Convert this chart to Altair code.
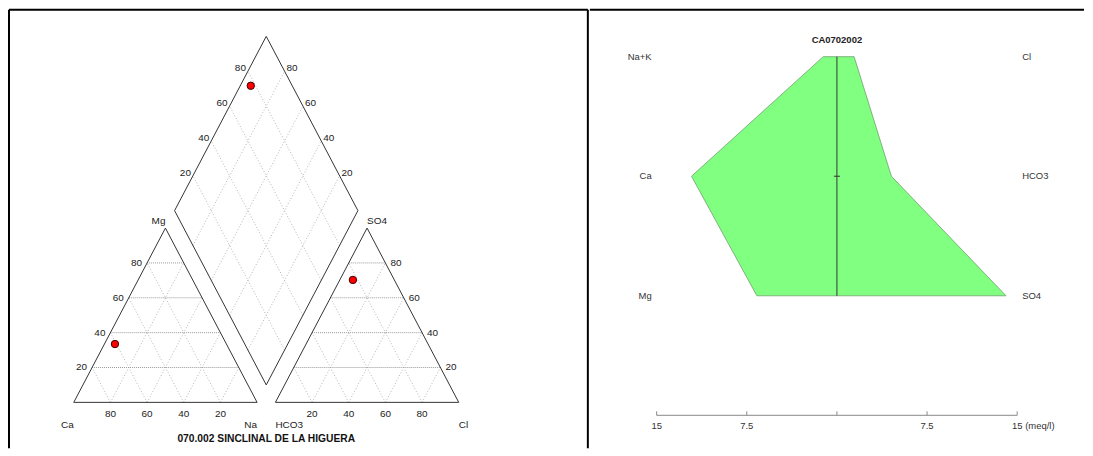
import altair as alt
import numpy as np
import pandas as pd

# ---------------- data (sample CA0702002, meq/l) ----------------
cation_names = ["Na+K", "Ca", "Mg"]
cation_meq = [1.14, 12.10, 6.66]
anion_names = ["Cl", "HCO3", "SO4"]
anion_meq = [1.43, 4.53, 14.07]

grid_pct = [20, 40, 60, 80]
piper_corner_labels = ["Ca", "Na", "HCO3", "Cl", "Mg", "SO4"]
piper_title = "070.002 SINCLINAL DE LA HIGUERA"

stiff_tick_values = [-15, -7.5, 0, 7.5, 15]
stiff_tick_labels = ["15", "7.5", "", "7.5", "15"]
stiff_unit = "(meq/l)"
stiff_title = "CA0702002"

FONT = "Liberation Sans"
S3 = np.sqrt(3) / 2
GAP = 0.1
AX = 1 + GAP

LW, LH = 581, 440
RW, RH = 496, 440

XD = [-0.3533, 2.8043]
YD = [-0.2277, 1.9505]
XS = alt.Scale(domain=XD, nice=False, zero=False)
YS = alt.Scale(domain=YD, nice=False, zero=False)

# ---------------- piper geometry ----------------
ca, mg, na = cation_meq[1], cation_meq[2], cation_meq[0]
cl, hco3, so4 = anion_meq[0], anion_meq[1], anion_meq[2]
ct = ca + mg + na
at = cl + hco3 + so4
fm, fn = mg / ct, na / ct
fs, fc = so4 / at, cl / at
xc, yc = fn + fm / 2, fm * S3
xa, ya = AX + fc + fs / 2, fs * S3
t = ((ya - yc) / S3 + 2 * (xa - xc)) / 2
xd, yd = xc + 0.5 * t, yc + S3 * t
pts = pd.DataFrame({"x": [xc, xa, xd], "y": [yc, ya, yd]})

B = np.array([(1 + AX) / 2, GAP * S3])
U = np.array([-0.5, S3])
V = np.array([0.5, S3])
L = B + U
T = B + U + V
R = B + V

outline = []
for ox in (0, AX):
    outline += [(ox, 0, ox + 1, 0), (ox + 1, 0, ox + 0.5, S3), (ox + 0.5, S3, ox, 0)]
outline += [(*B, *L), (*L, *T), (*T, *R), (*R, *B)]

hgrid, dgrid = [], []
for p in grid_pct:
    f = p / 100
    for ox in (0, AX):
        hgrid.append((ox + f / 2, f * S3, ox + 1 - f / 2, f * S3))
        dgrid.append((ox + f, 0, ox + f + (1 - f) / 2, (1 - f) * S3))
        dgrid.append((ox + 1 - f, 0, ox + (1 - f) / 2, (1 - f) * S3))
    p1 = B + f * U
    dgrid.append((*p1, *(p1 + V)))
    p2 = B + f * V
    dgrid.append((*p2, *(p2 + U)))

frame_l = [(XD[0], YD[0], XD[0], YD[1]), (XD[0], YD[1], XD[1], YD[1]), (XD[1], YD[0], XD[1], YD[1])]


def seg_df(s):
    return pd.DataFrame([tuple(float(v) for v in r) for r in s], columns=["x", "y", "x2", "y2"])


def rules(df, color, width=1.0, dash=None, xs=XS, ys=YS):
    kw = dict(color=color, strokeWidth=width)
    if dash:
        kw["strokeDash"] = dash
    return alt.Chart(df).mark_rule(**kw).encode(
        x=alt.X("x:Q", scale=xs, axis=None),
        y=alt.Y("y:Q", scale=ys, axis=None),
        x2="x2:Q",
        y2="y2:Q",
    )


def texts(df, align, dx=0, dy=0, size=10, bold=False, color="#222222", xs=XS, ys=YS, field="t"):
    return alt.Chart(df).mark_text(
        align=align, baseline="middle", dx=dx, dy=dy, fontSize=size, font=FONT,
        fontWeight="bold" if bold else "normal", color=color,
    ).encode(
        x=alt.X("x:Q", scale=xs, axis=None),
        y=alt.Y("y:Q", scale=ys, axis=None),
        text=f"{field}:N",
    )


def tdf(xs, ys, ts):
    return pd.DataFrame({"x": [float(v) for v in xs], "y": [float(v) for v in ys], "t": list(ts)})


labs = [str(p) for p in grid_pct]
lab_left = tdf([p / 200 for p in grid_pct], [p / 100 * S3 for p in grid_pct], labs)
lab_right = tdf([AX + 1 - p / 200 for p in grid_pct], [p / 100 * S3 for p in grid_pct], labs)
lab_bottom = tdf([1 - p / 100 for p in grid_pct] + [AX + p / 100 for p in grid_pct], [0.0] * 8, labs * 2)
dl = [L + p / 100 * V for p in grid_pct]
dr = [R + p / 100 * U for p in grid_pct]
lab_dl = tdf([q[0] for q in dl], [q[1] for q in dl], labs)
lab_dr = tdf([q[0] for q in dr], [q[1] for q in dr], labs)

corner_r_bot = tdf([0, 1], [0, 0], piper_corner_labels[0:2])
corner_l_bot = tdf([AX, AX + 1], [0, 0], piper_corner_labels[2:4])
corner_mg = tdf([0.5], [S3], [piper_corner_labels[4]])
corner_so4 = tdf([AX + 0.5], [S3], [piper_corner_labels[5]])
title_df = tdf([(1 + AX) / 2], [-0.1832], [piper_title])

points = alt.Chart(pts).mark_circle(color="#ff0000", stroke="#3a0000", strokeWidth=1,
                                    size=55, opacity=1).encode(
    x=alt.X("x:Q", scale=XS, axis=None), y=alt.Y("y:Q", scale=YS, axis=None))

left = alt.layer(
    rules(seg_df(dgrid), "#b5b5b5", 1, [1, 2]),
    rules(seg_df(hgrid), "#9a9a9a", 1, [1, 1]),
    rules(seg_df(outline), "#333333", 1),
    texts(lab_left, "right", dx=-5),
    texts(lab_right, "left", dx=5),
    texts(lab_bottom, "center", dy=12),
    texts(lab_dl, "right", dx=-2, dy=-3),
    texts(lab_dr, "left", dx=2, dy=-3),
    texts(corner_r_bot, "right", dy=23),
    texts(corner_l_bot, "left", dy=23),
    texts(corner_mg, "right", dy=-7),
    texts(corner_so4, "left", dy=-7),
    points,
    texts(title_df, "center", size=10.3, bold=True, color="#111111"),
    rules(seg_df(frame_l), "black", 2),
).properties(width=LW, height=LH)

# ---------------- stiff diagram ----------------
SXD = [-20.56, 20.56]
SYD = [0.608, 4.275]
SX = alt.Scale(domain=SXD, nice=False, zero=False)
SY = alt.Scale(domain=SYD, nice=False, zero=False, reverse=True)
rows = [1, 2, 3]
AXIS_ROW = 4
PX_ROW = (SYD[1] - SYD[0]) / RH  # rows per pixel

stiff = pd.DataFrame({"row": rows,
                      "left": [-v for v in cation_meq],
                      "right": anion_meq,
                      "cat": cation_names,
                      "an": anion_names,
                      "lx": [stiff_tick_values[0]] * 3,
                      "rx": [stiff_tick_values[-1]] * 3})

poly = alt.Chart(stiff).mark_area(orient="horizontal", color="#80ff80", fillOpacity=1,
                                  stroke="#6f9f6f", strokeWidth=0.8).encode(
    x=alt.X("left:Q", scale=SX, axis=None), x2="right:Q",
    y=alt.Y("row:Q", scale=SY, axis=None))

center = rules(seg_df([(0, rows[0], 0, rows[-1]), (-0.25, rows[1], 0.25, rows[1])]),
               "#333333", 1, xs=SX, ys=SY)
axis_line = rules(seg_df([(stiff_tick_values[0], AXIS_ROW, stiff_tick_values[-1], AXIS_ROW)]),
                  "#8a8a8a", 1, xs=SX, ys=SY)
axis_ticks = rules(seg_df([(v, AXIS_ROW, v, AXIS_ROW - 4 * PX_ROW) for v in stiff_tick_values]),
                   "#8a8a8a", 1, xs=SX, ys=SY)
lab_y = AXIS_ROW + 11 * PX_ROW
axis_labels = texts(tdf(stiff_tick_values, [lab_y] * 5, stiff_tick_labels), "center",
                    size=9.5, color="#333333", xs=SX, ys=SY)
unit_label = texts(tdf([stiff_tick_values[-1]], [lab_y], [stiff_unit]), "left", dx=8,
                   size=9.5, color="#333333", xs=SX, ys=SY)

cat_labels = texts(stiff.rename(columns={"lx": "x", "row": "y"})[["x", "y", "cat"]], "right", dx=-5,
                   size=9.5, color="#333333", xs=SX, ys=SY, field="cat")
an_labels = texts(stiff.rename(columns={"rx": "x", "row": "y"})[["x", "y", "an"]], "left", dx=5,
                  size=9.5, color="#333333", xs=SX, ys=SY, field="an")

stiff_title_layer = texts(tdf([0], [rows[0] - 17 * PX_ROW], [stiff_title]), "center", size=9.5,
                          bold=True, color="#222222", xs=SX, ys=SY)

frame_right = rules(seg_df([(SXD[0], SYD[0], SXD[1], SYD[0])]), "black", 2, xs=SX, ys=SY)

right = alt.layer(
    poly, center, axis_line, axis_ticks, axis_labels, unit_label,
    cat_labels, an_labels, stiff_title_layer, frame_right,
).properties(width=RW, height=RH)

chart = alt.hconcat(left, right, spacing=0).properties(
    padding=0, background="white"
).configure_view(strokeOpacity=0)

chart.save("out.html", embed_options={"renderer": "svg", "actions": False})
